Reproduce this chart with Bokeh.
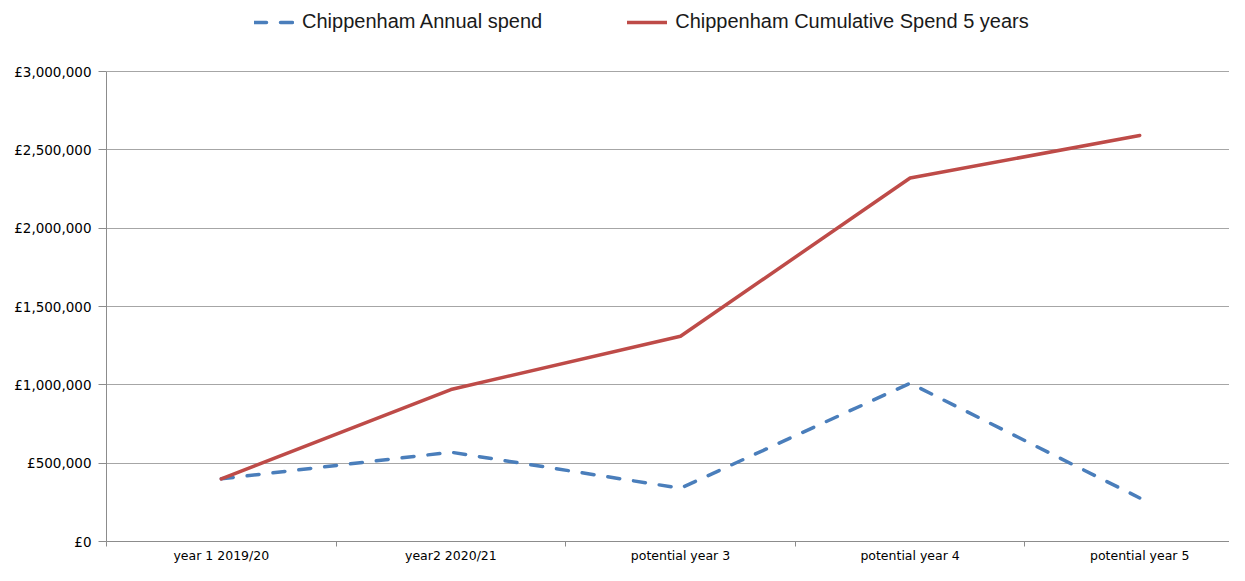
from bokeh.plotting import figure
from bokeh.models import (Range1d, FixedTicker, Legend, LegendItem, ColumnDataSource)
from bokeh.embed import file_html
from bokeh.resources import INLINE

categories = ["year 1 2019/20", "year2 2020/21", "potential year 3", "potential year 4", "potential year 5"]
annual_spend = [400000, 570000, 340000, 1010000, 278000]
cumulative_spend = [400000, 970000, 1310000, 2320000, 2592000]
y_ticks = [0, 500000, 1000000, 1500000, 2000000, 2500000, 3000000]
y_tick_labels = ["£0", "£500,000", "£1,000,000", "£1,500,000", "£2,000,000", "£2,500,000", "£3,000,000"]
series_names = ["Chippenham Annual spend", "Chippenham Cumulative Spend 5 years"]

# layout constants (pixels)
W, H = 1229, 565
LEFT, BOTTOM = 106, 24
PLOT_TOP = 71          # pixel row of the top gridline
frame_h = H - BOTTOM
y_max = y_ticks[-1]
y_end = y_max * frame_h / (frame_h - PLOT_TOP)   # leave room for the legend above the plot

xpos = list(range(1, len(categories) + 1))
src = ColumnDataSource(dict(x=xpos, annual=annual_spend, cumulative=cumulative_spend, cat=categories))

p = figure(width=W, height=H, output_backend="svg", toolbar_location=None,
           x_range=Range1d(0.5, 0.5 + (W - LEFT) / 229.6), y_range=Range1d(0, y_end),
           min_border_left=LEFT, min_border_right=0, min_border_top=0, min_border_bottom=BOTTOM)
p.outline_line_color = None
p.background_fill_color = "white"
p.border_fill_color = "white"

grid_col = "#a6a6a6"
axis_col = "#8c8c8c"

# x axis: labels at category centres, tick marks at category boundaries
p.xaxis.ticker = FixedTicker(ticks=xpos, minor_ticks=[v - 0.5 for v in xpos] + [xpos[-1] + 0.5])
p.xaxis.major_label_overrides = {x: c for x, c in zip(xpos, categories)}
p.xaxis.major_tick_out = 0
p.xaxis.major_tick_in = 0
p.xaxis.minor_tick_out = 5
p.xaxis.minor_tick_in = 0
p.xaxis.minor_tick_line_color = axis_col
p.xaxis.axis_line_color = axis_col
p.xaxis.major_label_standoff = 1
p.xaxis.major_label_text_font = "DejaVu Sans"
p.xaxis.major_label_text_font_size = "12.5px"
p.xaxis.major_label_text_color = "#000000"
p.xgrid.grid_line_color = None

# y axis
p.yaxis.ticker = FixedTicker(ticks=y_ticks, minor_ticks=[])
p.yaxis.bounds = (0, y_max)
p.yaxis.major_label_overrides = {v: l for v, l in zip(y_ticks, y_tick_labels)}
p.yaxis.major_tick_out = 8
p.yaxis.major_tick_in = 0
p.yaxis.major_tick_line_color = axis_col
p.yaxis.axis_line_color = axis_col
p.yaxis.major_label_standoff = 7
p.yaxis.major_label_text_font = "DejaVu Sans"
p.yaxis.major_label_text_font_size = "13.5px"
p.yaxis.major_label_text_color = "#000000"
p.ygrid.ticker = FixedTicker(ticks=y_ticks)
p.ygrid.grid_line_color = grid_col
p.ygrid.grid_line_width = 1

r1 = p.line("x", "annual", source=src, line_color="#4a7ebb", line_width=3.5,
            line_dash="12 14", line_cap="round")
r2 = p.line("x", "cumulative", source=src, line_color="#be4b48", line_width=3.5,
            line_cap="round", line_join="round")

legend = Legend(items=[LegendItem(label=series_names[0], renderers=[r1]),
                       LegendItem(label=series_names[1], renderers=[r2])],
                orientation="horizontal", location=(148, frame_h - 33),
                label_text_font="Liberation Sans", label_text_font_size="20px",
                label_text_color="#1a1a1a", glyph_width=40, glyph_height=20,
                label_standoff=8, spacing=85, padding=0, margin=0,
                border_line_color=None, background_fill_alpha=0)
p.add_layout(legend)

open("out.html", "w").write(file_html(p, INLINE))
